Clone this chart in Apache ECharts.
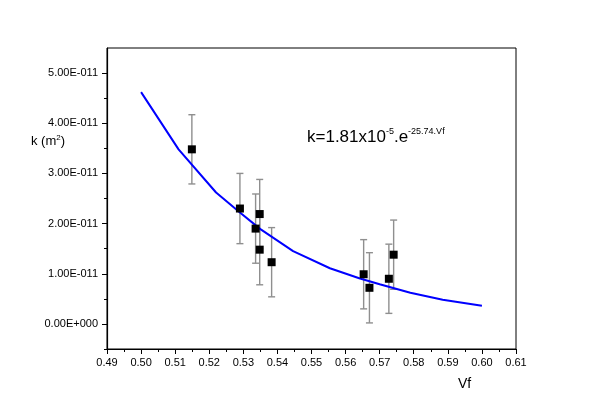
<!DOCTYPE html>
<html>
<head>
<meta charset="utf-8">
<script src="https://cdn.jsdelivr.net/npm/echarts@6/dist/echarts.min.js"></script>
<style>
html,body{margin:0;padding:0;background:#fff;}
#chart{width:600px;height:419px;}
</style>
</head>
<body>
<div id="chart"></div>
<script>
// Measured points (Vf, permeability k in m^2) and symmetric error
const vf = [0.5149, 0.5290, 0.5336, 0.5348, 0.5348, 0.5383, 0.5653, 0.5670, 0.5727, 0.5741];
const kVal = [3.48e-11, 2.30e-11, 1.90e-11, 2.19e-11, 1.48e-11, 1.23e-11, 0.99e-11, 0.72e-11, 0.90e-11, 1.38e-11];
const kErr = [0.69e-11, 0.70e-11, 0.69e-11, 0.69e-11, 0.70e-11, 0.69e-11, 0.69e-11, 0.70e-11, 0.69e-11, 0.69e-11];

// Fit curve
const fitVf = [0.500, 0.511, 0.522, 0.529, 0.535, 0.5446, 0.5554, 0.564, 0.570, 0.579, 0.5885, 0.600];
const fitK  = [4.62e-11, 3.48e-11, 2.62e-11, 2.22e-11, 1.89e-11, 1.45e-11, 1.11e-11, 0.91e-11, 0.79e-11, 0.62e-11, 0.48e-11, 0.36e-11];

// Tick labels
const xTicks = [0.49, 0.50, 0.51, 0.52, 0.53, 0.54, 0.55, 0.56, 0.57, 0.58, 0.59, 0.60, 0.61];
const yTicks = [0, 1e-11, 2e-11, 3e-11, 4e-11, 5e-11];
const yMinorTicks = [-5e-12, 5e-12, 1.5e-11, 2.5e-11, 3.5e-11, 4.5e-11];

function fmtE(v){
  if (Math.abs(v) < 1e-20) return '0.00E+000';
  let e = Math.floor(Math.log10(Math.abs(v)) + 1e-9);
  let m = v / Math.pow(10, e);
  if (Math.abs(m) >= 9.995) { m /= 10; e += 1; }
  const s = e < 0 ? '-' : '+';
  return m.toFixed(2) + 'E' + s + String(Math.abs(e)).padStart(3, '0');
}

const points = vf.map((x, i) => [x, kVal[i]]);
const errData = vf.map((x, i) => [x, kVal[i] - kErr[i], kVal[i] + kErr[i]]);
const fitData = fitVf.map((x, i) => [x, fitK[i]]);

const chart = echarts.init(document.getElementById('chart'));
const labelFont = {fontFamily: 'Liberation Sans, Arial, sans-serif', fontSize: 11, color: '#000'};

chart.setOption({
  animation: false,
  backgroundColor: '#fff',
  grid: {left: 107, right: 84, top: 48, bottom: 70, show: true, borderColor: '#000', borderWidth: 1, outerBoundsMode: 'none'},
  xAxis: {
    type: 'value', min: 0.49, max: 0.61, interval: 0.01,
    axisLine: {show: true, onZero: false, lineStyle: {color: '#000', width: 1.2}},
    axisTick: {show: true, length: 5, lineStyle: {color: '#000', width: 1}},
    minorTick: {show: true, splitNumber: 2, length: 3, lineStyle: {color: '#000', width: 1}},
    splitLine: {show: false},
    axisLabel: Object.assign({margin: 8, formatter: v => v.toFixed(2), showMinLabel: true, showMaxLabel: true}, labelFont)
  },
  yAxis: [{
    type: 'value', min: -5e-12, max: 5.5e-11,
    axisLine: {show: true, onZero: false, lineStyle: {color: '#000', width: 1.2}},
    axisTick: {show: true, length: 5, customValues: yTicks, lineStyle: {color: '#000', width: 1}},
    splitLine: {show: false},
    axisLabel: Object.assign({margin: 9, customValues: yTicks, formatter: v => fmtE(v)}, labelFont)
  }, {
    type: 'value', min: -5e-12, max: 5.5e-11, position: 'left', offset: 0,
    axisLine: {show: false},
    axisTick: {show: true, length: 3, customValues: yMinorTicks, lineStyle: {color: '#000', width: 1}},
    splitLine: {show: false},
    axisLabel: {show: false}
  }],
  series: [{
    type: 'custom',
    data: errData,
    z: 2,
    renderItem: function(params, api){
      const x = api.value(0), lo = api.value(1), hi = api.value(2);
      const pLo = api.coord([x, lo]), pHi = api.coord([x, hi]);
      const w = 3.5;
      const st = {stroke: '#8f8f8f', lineWidth: 1.4};
      return {type: 'group', children: [
        {type: 'line', shape: {x1: pLo[0], y1: pLo[1], x2: pHi[0], y2: pHi[1]}, style: st},
        {type: 'line', shape: {x1: pLo[0]-w, y1: pLo[1], x2: pLo[0]+w, y2: pLo[1]}, style: st},
        {type: 'line', shape: {x1: pHi[0]-w, y1: pHi[1], x2: pHi[0]+w, y2: pHi[1]}, style: st}
      ]};
    }
  }, {
    type: 'line',
    data: fitData,
    z: 3,
    showSymbol: false,
    symbol: 'none',
    lineStyle: {color: '#0000ff', width: 2}
  }, {
    type: 'scatter',
    data: points,
    z: 4,
    symbol: 'rect',
    symbolSize: 8,
    itemStyle: {color: '#000', opacity: 1}
  }],
  graphic: [{
    type: 'text', left: 31, top: 134,
    style: {
      text: '{a|k (m}{s|2}{a|)}',
      rich: {
        a: {fontFamily: 'Liberation Sans, Arial, sans-serif', fontSize: 13, fill: '#000', verticalAlign: 'bottom'},
        s: {fontFamily: 'Liberation Sans, Arial, sans-serif', fontSize: 8, fill: '#000', verticalAlign: 'top', padding: [0,0,6,0]}
      }
    }
  }, {
    type: 'text', left: 307, top: 127,
    style: {
      text: '{a|k=1.81x10}{s|-5}{a|.e}{s|-25.74.Vf}',
      rich: {
        a: {fontFamily: 'Liberation Sans, Arial, sans-serif', fontSize: 17, fill: '#000', verticalAlign: 'bottom'},
        s: {fontFamily: 'Liberation Sans, Arial, sans-serif', fontSize: 9, fill: '#000', verticalAlign: 'top', padding: [0,0,10,0]}
      }
    }
  }, {
    type: 'text', left: 458, top: 377,
    style: {text: 'Vf', fontFamily: 'Liberation Sans, Arial, sans-serif', fontSize: 14, fill: '#000'}
  }]
});
</script>
</body>
</html>
